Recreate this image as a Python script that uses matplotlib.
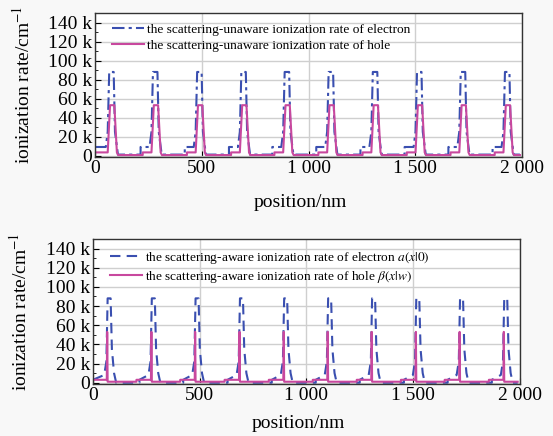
import matplotlib
matplotlib.use('Agg')
import matplotlib.pyplot as plt
from matplotlib.ticker import FuncFormatter, MultipleLocator

plt.rcParams['font.family'] = ['Liberation Serif', 'DejaVu Serif']
plt.rcParams['mathtext.fontset'] = 'stix'

# ionization rates in units of 1 k cm^-1, positions in nm
# upper panel: scattering-unaware model
elec_top_x = [0, 50, 59, 66, 87, 93, 107,
              213, 213, 255, 264, 271, 292, 298, 312,
              420, 420, 462, 471, 478, 499, 505, 519,
              627, 627, 669, 678, 685, 706, 712, 726,
              830, 830, 872, 881, 888, 909, 915, 929,
              1036, 1036, 1078, 1087, 1094, 1115, 1121, 1135,
              1243, 1243, 1285, 1294, 1301, 1322, 1328, 1342,
              1450, 1450, 1492, 1501, 1508, 1529, 1535, 1549,
              1655, 1655, 1697, 1706, 1713, 1734, 1740, 1754,
              1862, 1862, 1904, 1913, 1920, 1941, 1947, 1961, 1990]
elec_top_y = [9, 9, 25, 88, 88, 25, 1,
              1, 9, 9, 25, 88, 88, 25, 1,
              1, 9, 9, 25, 88, 88, 25, 1,
              1, 9, 9, 25, 88, 88, 25, 1,
              1, 9, 9, 25, 88, 88, 25, 1,
              1, 9, 9, 25, 88, 88, 25, 1,
              1, 9, 9, 25, 88, 88, 25, 1,
              1, 9, 9, 25, 88, 88, 25, 1,
              1, 9, 9, 25, 88, 88, 25, 1,
              1, 9, 9, 25, 88, 88, 25, 1, 1]

hole_top_x = [0, 59, 70, 90, 102, 108,
              223, 223, 264, 275, 295, 307, 313,
              430, 430, 471, 482, 502, 514, 520,
              637, 637, 678, 689, 709, 721, 727,
              840, 840, 881, 892, 912, 924, 930,
              1046, 1046, 1087, 1098, 1118, 1130, 1136,
              1253, 1253, 1294, 1305, 1325, 1337, 1343,
              1460, 1460, 1501, 1512, 1532, 1544, 1550,
              1665, 1665, 1706, 1717, 1737, 1749, 1755,
              1872, 1872, 1913, 1924, 1944, 1956, 1962, 1990]
hole_top_y = [3.3, 3.3, 53, 53, 3.3, 0.5,
              0.5, 3.3, 3.3, 53, 53, 3.3, 0.5,
              0.5, 3.3, 3.3, 53, 53, 3.3, 0.5,
              0.5, 3.3, 3.3, 53, 53, 3.3, 0.5,
              0.5, 3.3, 3.3, 53, 53, 3.3, 0.5,
              0.5, 3.3, 3.3, 53, 53, 3.3, 0.5,
              0.5, 3.3, 3.3, 53, 53, 3.3, 0.5,
              0.5, 3.3, 3.3, 53, 53, 3.3, 0.5,
              0.5, 3.3, 3.3, 53, 53, 3.3, 0.5,
              0.5, 3.3, 3.3, 53, 53, 3.3, 0.5, 0.5]

# lower panel: scattering-aware model
elec_bot_x = [0, 53, 63, 69, 83, 89, 99, 109,
              218, 218, 260, 270, 276, 290, 296, 306, 316,
              423, 423, 465, 475, 481, 495, 501, 511, 521,
              631, 631, 673, 683, 689, 703, 709, 719, 729,
              838, 838, 880, 890, 896, 910, 916, 926, 936,
              1044, 1044, 1086, 1096, 1102, 1116, 1122, 1132, 1142,
              1250, 1250, 1292, 1302, 1308, 1322, 1328, 1338, 1348,
              1457, 1457, 1499, 1509, 1515, 1529, 1535, 1545, 1555,
              1662, 1662, 1704, 1714, 1720, 1734, 1740, 1750, 1760,
              1869, 1869, 1911, 1921, 1927, 1941, 1947, 1957, 1967, 1990]
elec_bot_y = [3, 8, 22, 88, 88, 35, 10, 0,
              0, 3, 8, 22, 88, 88, 35, 10, 0,
              0, 3, 8, 22, 88, 88, 35, 10, 0,
              0, 3, 8, 22, 88, 88, 35, 10, 0,
              0, 3, 8, 22, 88, 88, 35, 10, 0,
              0, 3, 8, 22, 88, 88, 35, 10, 0,
              0, 3, 8, 22, 88, 88, 35, 10, 0,
              0, 3, 8, 22, 88, 88, 35, 10, 0,
              0, 3, 8, 22, 88, 88, 35, 10, 0,
              0, 3, 8, 22, 88, 88, 35, 10, 0, 0]

hole_bot_x = [0, 65, 67, 69,
              204, 204, 272, 274, 276,
              409, 409, 477, 479, 481,
              617, 617, 685, 687, 689,
              824, 824, 892, 894, 896,
              1030, 1030, 1098, 1100, 1102,
              1236, 1236, 1304, 1306, 1308,
              1443, 1443, 1511, 1513, 1515,
              1648, 1648, 1716, 1718, 1720,
              1855, 1855, 1923, 1925, 1927, 1990]
hole_bot_y = [3, 3, 53, 1,
              1, 3, 3, 53, 1,
              1, 3, 3, 53, 1,
              1, 3, 3, 53, 1,
              1, 3, 3, 53, 1,
              1, 3, 3, 53, 1,
              1, 3, 3, 53, 1,
              1, 3, 3, 53, 1,
              1, 3, 3, 53, 1,
              1, 3, 3, 53, 1, 1]

x_ticks = [0, 500, 1000, 1500, 2000]
x_tick_labels = ['0', '500', '1 000', '1 500', '2 000']
y_ticks = [0, 20, 40, 60, 80, 100, 120, 140]

BLUE = '#3a4fb0'
PINK = '#c8489e'


def k_fmt(v, pos):
    return '0' if v == 0 else '%d k' % v


def style_axes(ax, xlabel_y):
    ax.set_xlim(0, 2000)
    ax.set_ylim(-1.5, 150)
    ax.set_xticks(x_ticks)
    ax.set_xticklabels(x_tick_labels)
    ax.set_yticks(y_ticks)
    ax.yaxis.set_major_formatter(FuncFormatter(k_fmt))
    ax.yaxis.set_minor_locator(MultipleLocator(10))
    ax.tick_params(direction='in', labelsize=14, length=4, width=0.8, pad=2)
    ax.tick_params(which='minor', direction='in', length=2)
    ax.grid(True, color='#cfcfcf', linewidth=1.0)
    ax.set_axisbelow(True)
    for s in ax.spines.values():
        s.set_linewidth(1.0)
        s.set_color('#333333')
    ax.set_xlabel('position/nm', fontsize=14)
    ax.set_ylabel('ionization rate/cm$^{-1}$', fontsize=14)
    ax.xaxis.set_label_coords(0.48, xlabel_y)
    ax.yaxis.set_label_coords(-0.145, 0.5)


def add_legend(ax):
    ax.legend(loc='upper left', bbox_to_anchor=(0.015, 1.0), frameon=False,
              fontsize=9.6, handlelength=2.4, handletextpad=0.2,
              borderaxespad=0.5, borderpad=0.3, labelspacing=0.25)


fig = plt.figure(figsize=(5.53, 4.36), dpi=100)
fig.patch.set_facecolor('#f8f8f8')

ax1 = fig.add_axes([0.172, 0.640, 0.772, 0.330])
ax1.plot(elec_top_x, elec_top_y, color=BLUE, linestyle=(0, (6, 2, 1.5, 2)),
         linewidth=1.5, label='the scattering-unaware ionization rate of electron')
ax1.plot(hole_top_x, hole_top_y, color=PINK, linestyle='-', linewidth=1.5,
         label='the scattering-unaware ionization rate of hole')
style_axes(ax1, -0.26)
add_legend(ax1)

ax2 = fig.add_axes([0.168, 0.119, 0.772, 0.333])
ax2.plot(elec_bot_x, elec_bot_y, color=BLUE, linestyle=(0, (5, 3)), linewidth=1.5,
         label='the scattering-aware ionization rate of electron $a(x|0)$')
ax2.plot(hole_bot_x, hole_bot_y, color=PINK, linestyle='-', linewidth=1.5,
         label=r'the scattering-aware ionization rate of hole $\beta(x|w)$')
style_axes(ax2, -0.215)
add_legend(ax2)

fig.savefig('out.png', dpi=100, facecolor=fig.get_facecolor())
